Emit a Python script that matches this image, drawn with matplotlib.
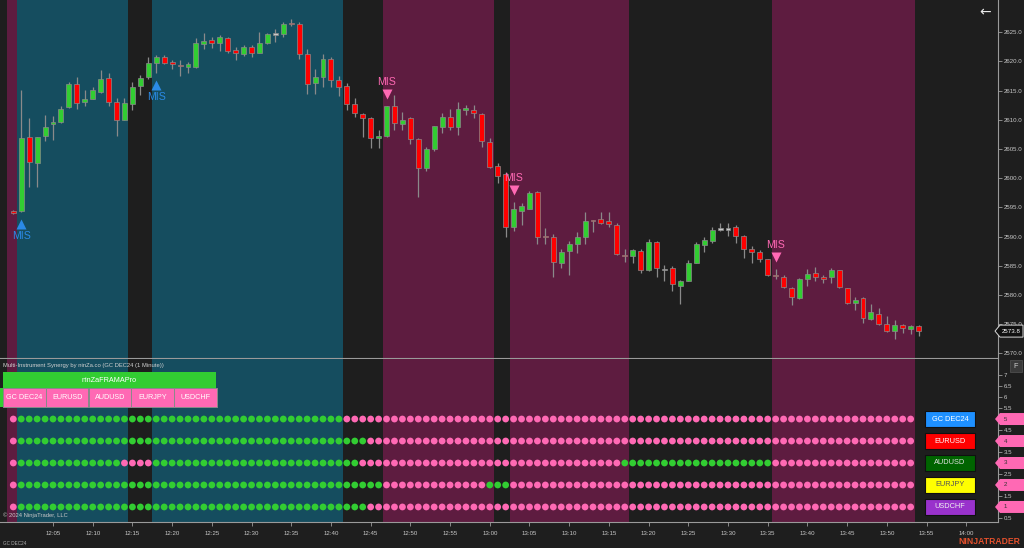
import numpy as np
import matplotlib
matplotlib.use("Agg")
import matplotlib.pyplot as plt
from matplotlib.patches import Rectangle, Polygon
from matplotlib.transforms import blended_transform_factory, offset_copy

plt.rcParams['font.family'] = ['Liberation Sans', 'DejaVu Sans']

# GC DEC24, 1-minute bars from 12:00 (bar 0) to 13:54 (bar 114, still forming)
opens = [2594.3, 2594.4, 2607.0, 2602.6, 2607.2, 2609.3, 2609.6, 2612.2, 2616.1, 2613.0,
         2613.6, 2614.7, 2617.2, 2613.1, 2610.0, 2612.7, 2615.8, 2617.3, 2619.8, 2620.7,
         2619.9, 2619.3, 2619.1, 2619.0, 2623.0, 2623.6, 2623.1, 2624.1, 2622.0, 2621.3,
         2622.4, 2621.5, 2623.1, 2624.7, 2624.7, 2626.6, 2626.4, 2621.3, 2616.3, 2617.4,
         2620.5, 2616.9, 2615.8, 2612.7, 2611.0, 2610.3, 2606.9, 2607.3, 2612.3, 2609.3,
         2610.3, 2606.7, 2601.8, 2605.0, 2608.8, 2610.5, 2608.7, 2611.7, 2611.7, 2611.0,
         2606.2, 2602.1, 2600.7, 2591.6, 2594.4, 2594.8, 2597.7, 2590.1, 2589.9, 2585.5,
         2587.5, 2588.7, 2589.9, 2592.8, 2593.0, 2592.7, 2592.0, 2586.9, 2586.7, 2587.5,
         2584.2, 2589.1, 2584.4, 2584.6, 2581.6, 2582.4, 2585.5, 2588.5, 2589.3, 2591.3,
         2591.3, 2591.6, 2590.1, 2587.8, 2587.4, 2586.1, 2583.3, 2583.0, 2581.2, 2579.4,
         2582.8, 2583.8, 2583.1, 2583.0, 2584.2, 2581.1, 2578.6, 2579.4, 2575.9, 2576.7,
         2575.0, 2573.8, 2574.8, 2574.2, 2574.7]
highs = [2594.6, 2615.1, 2610.3, 2607.1, 2610.8, 2610.7, 2612.3, 2616.5, 2617.3, 2615.1,
         2615.6, 2618.5, 2618.0, 2613.8, 2613.8, 2616.4, 2617.7, 2620.8, 2621.1, 2621.1,
         2620.2, 2620.2, 2619.9, 2624.0, 2624.9, 2624.2, 2624.5, 2624.2, 2622.5, 2622.8,
         2622.8, 2625.0, 2624.8, 2625.5, 2626.8, 2627.2, 2626.8, 2622.1, 2618.7, 2621.3,
         2620.7, 2617.5, 2616.3, 2613.7, 2611.1, 2610.5, 2608.3, 2612.4, 2614.3, 2611.4,
         2610.4, 2606.8, 2605.4, 2609.0, 2611.1, 2611.8, 2613.1, 2612.5, 2612.5, 2611.2,
         2606.8, 2602.6, 2601.1, 2595.9, 2595.7, 2597.8, 2597.8, 2591.4, 2590.4, 2587.8,
         2589.3, 2590.7, 2594.2, 2592.9, 2594.2, 2594.2, 2592.3, 2587.8, 2587.8, 2587.8,
         2589.5, 2589.3, 2585.1, 2585.0, 2582.5, 2586.0, 2589.1, 2589.9, 2591.7, 2592.4,
         2592.3, 2591.9, 2590.2, 2588.4, 2587.7, 2586.2, 2584.4, 2583.4, 2581.4, 2582.9,
         2584.4, 2584.7, 2583.4, 2584.6, 2584.3, 2581.2, 2579.7, 2579.6, 2578.4, 2577.7,
         2576.4, 2575.7, 2575.0, 2574.8, 2574.8]
lows = [2593.9, 2594.2, 2598.5, 2598.5, 2606.3, 2606.5, 2609.5, 2612.0, 2611.9, 2612.3,
        2613.5, 2614.6, 2612.4, 2607.2, 2609.9, 2611.7, 2614.3, 2617.0, 2618.1, 2619.6,
        2618.7, 2617.5, 2618.0, 2618.9, 2622.2, 2622.3, 2621.8, 2621.4, 2620.3, 2620.9,
        2620.8, 2621.4, 2623.0, 2623.4, 2624.2, 2626.0, 2620.4, 2614.4, 2614.4, 2615.7,
        2615.6, 2614.0, 2611.7, 2610.4, 2607.1, 2605.1, 2605.1, 2607.1, 2608.3, 2608.3,
        2605.8, 2596.8, 2601.3, 2604.7, 2607.7, 2608.3, 2607.4, 2610.8, 2610.3, 2605.4,
        2601.8, 2599.2, 2589.9, 2591.0, 2591.9, 2594.7, 2588.7, 2588.7, 2583.0, 2584.6,
        2583.4, 2587.2, 2588.8, 2590.7, 2592.2, 2591.6, 2586.9, 2585.7, 2585.4, 2583.8,
        2584.1, 2583.0, 2582.3, 2580.7, 2578.4, 2582.3, 2585.4, 2587.4, 2588.9, 2591.0,
        2590.1, 2588.9, 2586.4, 2585.4, 2585.7, 2583.3, 2582.7, 2581.1, 2578.2, 2579.3,
        2581.6, 2582.4, 2582.0, 2582.1, 2581.1, 2578.4, 2577.5, 2575.2, 2575.7, 2574.8,
        2573.7, 2572.4, 2573.5, 2573.3, 2573.0]
closes = [2594.1, 2606.9, 2602.8, 2607.0, 2608.8, 2609.7, 2611.8, 2616.1, 2612.8, 2613.6,
          2615.1, 2617.0, 2613.0, 2610.0, 2612.8, 2615.7, 2617.2, 2619.7, 2620.7, 2619.7,
          2619.5, 2619.2, 2619.6, 2623.1, 2623.5, 2623.2, 2624.2, 2621.8, 2621.5, 2622.5,
          2621.4, 2623.1, 2624.7, 2624.7, 2626.5, 2626.4, 2621.3, 2616.1, 2617.3, 2620.4,
          2616.8, 2615.6, 2612.7, 2611.1, 2610.3, 2606.9, 2607.3, 2612.3, 2609.4, 2610.0,
          2606.7, 2601.7, 2605.0, 2608.9, 2610.4, 2608.7, 2611.8, 2612.1, 2611.1, 2606.3,
          2601.9, 2600.4, 2591.6, 2594.7, 2595.2, 2597.4, 2590.0, 2589.9, 2585.6, 2587.4,
          2588.7, 2589.9, 2592.6, 2592.6, 2592.3, 2592.1, 2587.0, 2586.7, 2587.7, 2584.3,
          2589.1, 2584.6, 2584.4, 2581.8, 2582.4, 2585.4, 2588.7, 2589.4, 2591.2, 2591.3,
          2591.3, 2590.1, 2587.8, 2587.4, 2586.1, 2583.4, 2583.2, 2581.3, 2579.6, 2582.8,
          2583.6, 2583.0, 2582.8, 2584.2, 2581.3, 2578.6, 2579.2, 2576.1, 2577.0, 2575.1,
          2573.9, 2574.8, 2574.3, 2574.7, 2573.8]
last_price = 2573.8

# MIS signals (bar index)
mis_up_bars = [1, 18]
mis_down_bars = [47, 63, 96]

# background trend bands: edges in bar units and trend of each band
band_edges = [-0.75, 0.5, 14.5, 17.5, 41.5, 46.5, 60.5, 62.5, 77.5, 95.5, 113.5]
band_trend = ['down', 'up', 'flat', 'up', 'flat', 'down', 'flat', 'down', 'flat', 'down']

# synergy panel: instruments (row value) and bar ranges where each is bullish
instruments = ['GC DEC24', 'EURUSD', 'AUDUSD', 'EURJPY', 'USDCHF']
inst_rows = [5, 4, 3, 2, 1]
inst_colors = ['#1e90ff', '#ff0000', '#006400', '#ffff00', '#9932cc']
inst_text = ['#ffffff', '#ffffff', '#e0e0e0', '#555555', '#f0f0f0']
bull_ranges = [
    [(1, 41)],
    [(1, 44)],
    [(1, 13), (18, 43), (77, 95)],
    [(1, 46), (60, 62)],
    [(1, 44)],
]
n_dots = 114

time_ticks = list(range(5, 121, 5))
time_labels = ['%d:%02d' % (12 + t // 60, t % 60) for t in time_ticks]

BG = '#1e1e1e'
TEAL = '#154d5f'
MAROON = '#5e1c40'
GREEN = '#32cd32'
RED = '#ff0000'
PINK = '#ff69b4'
AXC = '#9a9a9a'
TXT = '#c8c8c8'
band_colors = {'up': TEAL, 'down': MAROON, 'flat': BG}

W, H = 1024, 548
fig = plt.figure(figsize=(W / 100, H / 100), dpi=100, facecolor=BG)
ax1 = fig.add_axes([0, 1 - 358 / H, 998 / W, 358 / H])
ax2 = fig.add_axes([0, 1 - 521.7 / H, 998 / W, (521.7 - 359) / H])

for ax in (ax1, ax2):
    ax.set_facecolor(BG)
    ax.set_xlim(-1.675, 124.0)
    ax.spines['top'].set_visible(False)
    ax.spines['left'].set_visible(False)
    ax.spines['right'].set_color(AXC)
    ax.spines['bottom'].set_color(AXC)
    ax.spines['right'].set_linewidth(0.8)
    ax.spines['bottom'].set_linewidth(0.8)
    ax.yaxis.tick_right()
    ax.tick_params(axis='y', colors=AXC, labelcolor=TXT, labelsize=4.4, length=3, width=0.6, pad=1)
    for a, b, t in zip(band_edges[:-1], band_edges[1:], band_trend):
        ax.axvspan(a, b, color=band_colors[t], lw=0, zorder=0)

# ---- price panel ----
o = np.array(opens); h = np.array(highs); l = np.array(lows); c = np.array(closes)
x = np.arange(len(o))
doji = np.abs(c - o) < 0.05
cols = np.where(doji, '#c8c8c8', np.where(c >= o, GREEN, RED))
body_h = np.maximum(np.abs(c - o), 0.2)
body_b = np.where(doji, o - 0.1, np.minimum(o, c))
ax1.vlines(x, l, h, color='#8a8a8a', lw=0.9, zorder=2)
ax1.bar(x, body_h, bottom=body_b, width=0.62, color=cols, edgecolor='#8a8a8a', linewidth=0.5, zorder=3)

ax1.set_ylim(2569.19, 2630.53)
ax1.set_yticks(np.arange(2570, 2626, 5))
ax1.set_yticklabels(['%.1f' % v for v in np.arange(2570, 2626, 5)])
ax1.set_xticks([])

below_tri = offset_copy(ax1.transData, fig=fig, y=-12, units='dots')
below_txt = offset_copy(ax1.transData, fig=fig, y=-24, units='dots')
above_tri = offset_copy(ax1.transData, fig=fig, y=12, units='dots')
above_txt = offset_copy(ax1.transData, fig=fig, y=24, units='dots')
for b in mis_up_bars:
    ax1.plot(b, lows[b], marker='^', ms=6.5, color='#2b8ae6', mec='none', transform=below_tri, zorder=5)
    ax1.text(b, lows[b], 'MIS', color='#2b8ae6', fontsize=7.6, ha='center', va='center', transform=below_txt, zorder=5)
for b in mis_down_bars:
    ax1.plot(b, highs[b], marker='v', ms=6.5, color=PINK, mec='none', transform=above_tri, zorder=5)
    ax1.text(b, highs[b], 'MIS', color=PINK, fontsize=7.6, ha='center', va='center', transform=above_txt, zorder=5)

# last price tag
tr1 = blended_transform_factory(ax1.transAxes, ax1.transData)
hh = 6 / 5.836
x0, x1, x2 = 995 / 998, 1000 / 998, 1023 / 998
ax1.add_patch(Polygon([(x0, last_price), (x1, last_price + hh), (x2, last_price + hh),
                       (x2, last_price - hh), (x1, last_price - hh)], closed=True,
                      fc='#111111', ec='#d8d8d8', lw=0.7, transform=tr1, clip_on=False, zorder=10))
ax1.text(1011.5 / 998, last_price, '%.1f' % last_price, color='#ffffff', fontsize=4.4,
         ha='center', va='center', transform=tr1, clip_on=False, zorder=11)

# ---- synergy panel ----
ax2.set_ylim(0.33, 7.73)
yt = np.arange(0.5, 7.01, 0.5)
ax2.set_yticks(yt)
ax2.set_yticklabels(['%g' % v for v in yt])
ax2.set_xticks(time_ticks)
ax2.set_xticklabels(time_labels)
ax2.tick_params(axis='x', colors=AXC, labelcolor=TXT, labelsize=4.4, length=3, width=0.6, pad=4)

dx = np.arange(n_dots)
for row, ranges in zip(inst_rows, bull_ranges):
    dc = np.full(n_dots, PINK, dtype=object)
    for a, b in ranges:
        dc[a:b + 1] = GREEN
    ax2.scatter(dx, np.full(n_dots, row), s=24, c=list(dc), linewidths=0, zorder=4)

tr2 = blended_transform_factory(ax2.transAxes, ax2.transData)
bh = 0.37
for name, row, fc, tc in zip(instruments, inst_rows, inst_colors, inst_text):
    ax2.add_patch(Rectangle((925 / 998, row - bh), 49.7 / 998, 2 * bh, fc=fc, ec='#101010', lw=0.8,
                            transform=tr2, zorder=6))
    ax2.text(950 / 998, row, name, color=tc, fontsize=5.3, ha='center', va='center', transform=tr2, zorder=7)
    th = 6 / 22
    ax2.add_patch(Polygon([(x0, row), (x1, row + th), (1.03, row + th), (1.03, row - th), (x1, row - th)],
                          closed=True, fc=PINK, ec='none', transform=tr2, clip_on=False, zorder=10))
    ax2.text(1003.5 / 998, row, '%d' % row, color='#333333', fontsize=4.4, ha='left', va='center',
             transform=tr2, clip_on=False, zorder=11)

# ---- panel decorations (figure pixel positions) ----
def fx(px):
    return px / W

def fy(py):
    return 1 - py / H

fig.text(fx(3), fy(365), 'Multi-Instrument Synergy by ninZa.co (GC DEC24 (1 Minute))', color='#d0d0d0',
         fontsize=4.2, ha='left', va='center')
fig.patches.append(Rectangle((fx(3), fy(388.3)), fx(213), 16.6 / H, fc=GREEN, ec='none',
                             transform=fig.transFigure, figure=fig, zorder=5))
fig.text(fx(109.5), fy(380), 'ninZaFRAMAPro', color='#ffffff', fontsize=5.2, ha='center', va='center', zorder=6)
fig.patches.append(Rectangle((0, fy(406.7)), fx(3), 18.4 / H, fc=GREEN, ec='none',
                             transform=fig.transFigure, figure=fig, zorder=5))
cell_x = [3.3, 46.0, 88.7, 131.4, 174.1]
for cx, name in zip(cell_x, instruments):
    fig.patches.append(Rectangle((fx(cx), fy(406.7)), fx(42.4), 18.4 / H, fc=PINK, ec='#8a8a8a', lw=0.7,
                                 transform=fig.transFigure, figure=fig, zorder=5))
    fig.text(fx(cx + 21.2), fy(397.5), name, color='#ffffff', fontsize=5.2, ha='center', va='center', zorder=6)

fig.text(fx(3), fy(515.5), '\u00a9 2024 NinjaTrader, LLC', color='#c8c8c8', fontsize=4.2, ha='left', va='center')
fig.text(fx(3), fy(543.5), 'GC DEC24', color='#b0b0b0', fontsize=3.3, ha='left', va='center')
fig.text(fx(1020), fy(541), 'NINJATRADER', color='#e4502c', fontsize=6.2, fontweight='bold',
         ha='right', va='center')
fig.text(fx(985), fy(12), '\u2190', color='#e8e8e8', fontsize=10, ha='center', va='center',
         family='DejaVu Sans')
fig.patches.append(Rectangle((fx(1010), fy(372)), fx(12), 12 / H, fc='#3a3a3a', ec='#555555', lw=0.5,
                             transform=fig.transFigure, figure=fig, zorder=5))
fig.text(fx(1016), fy(366), 'F', color='#cfcfcf', fontsize=5.2, ha='center', va='center', zorder=6)

fig.savefig('out.png', dpi=100, facecolor=BG)
